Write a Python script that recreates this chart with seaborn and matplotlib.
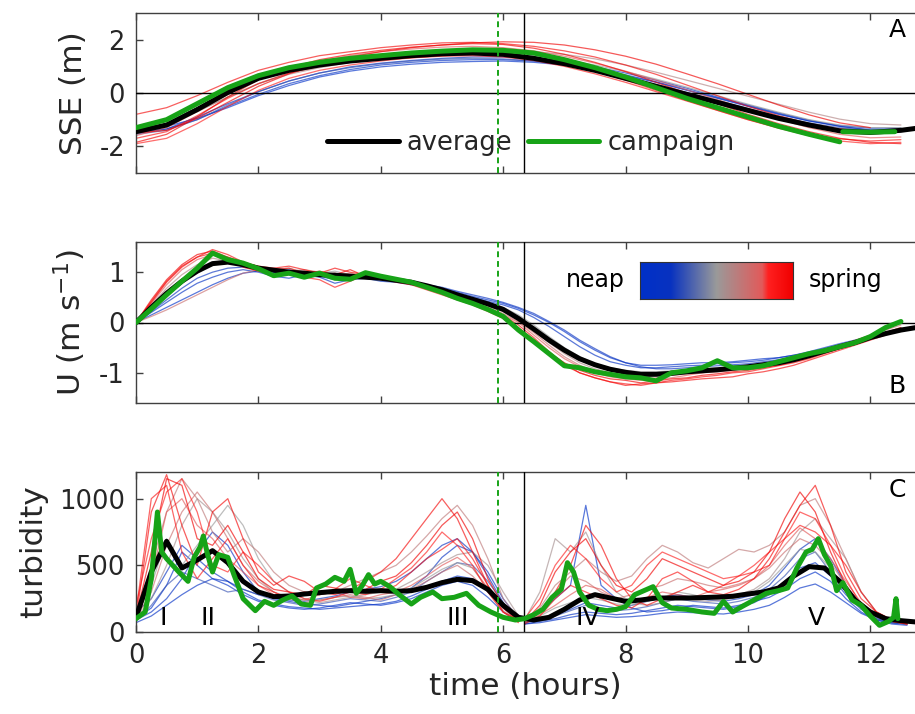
import numpy as np
import pandas as pd
import matplotlib
matplotlib.use("Agg")
import matplotlib.pyplot as plt
from matplotlib.colors import LinearSegmentedColormap
from matplotlib.lines import Line2D
import seaborn as sns

# ---------------------------------------------------------------- time axes
hours_half = np.arange(0, 13.01, 0.5)        # SSE average (27 samples)
hours_member_sse = np.arange(0, 12.51, 0.5)  # SSE members (26 samples)
hours_quarter = np.arange(0, 12.76, 0.25)    # U / turbidity averages (52)
hours_member_u = np.arange(0, 12.51, 0.25)   # U members (51)
hours_flood = np.arange(0, 6.26, 0.25)       # turbidity, first half (26)
hours_ebb = 6.35 + 0.25 * np.arange(26)      # turbidity, second half (26)

slack_hour = 6.34
campaign_hour = 5.92

# ---------------------------------------------------------------- panel A: SSE (m)
sse_average = [-1.45, -1.2, -0.62, 0.02, 0.55, 0.85, 1.05, 1.2, 1.3, 1.4, 1.47, 1.5, 1.45,
               1.3, 1.1, 0.85, 0.55, 0.25, -0.05, -0.35, -0.65, -0.95, -1.2, -1.42, -1.48,
               -1.4, -1.25]
sse_campaign_hours = [0, 0.5, 1, 1.5, 2, 2.5, 3, 3.5, 4, 4.5, 5, 5.5, 6, 6.5, 7, 7.5, 8, 8.5,
                      9, 9.5, 10, 10.5, 11, 11.5, 11.55, 12.0, 12.4]
sse_campaign = [-1.3, -1.0, -0.4, 0.2, 0.65, 0.95, 1.15, 1.3, 1.4, 1.5, 1.57, 1.62, 1.6, 1.5,
                1.25, 0.95, 0.6, 0.2, -0.2, -0.55, -0.9, -1.25, -1.55, -1.83,
                -1.45, -1.47, -1.45]
sse_campaign_segment = [0] * 24 + [1] * 3

sse_phase = [1.0, 0.95, 0.9, 0.8, 0.5, 0.1, 0.0, 0.2, 0.85, 0.6, 1.0, 0.3]
sse_members = [
    [-1.85, -1.55, -0.9, -0.15, 0.5, 0.95, 1.25, 1.45, 1.6, 1.72, 1.8, 1.85, 1.82, 1.68, 1.45, 1.15, 0.8, 0.4, 0.0, -0.4, -0.8, -1.15, -1.45, -1.7, -1.85, -1.9],
    [-0.8, -0.55, -0.1, 0.4, 0.85, 1.15, 1.4, 1.55, 1.7, 1.8, 1.88, 1.9, 1.85, 1.75, 1.58, 1.35, 1.05, 0.7, 0.3, -0.1, -0.5, -0.85, -1.15, -1.35, -1.45, np.nan],
    [-1.7, -1.45, -0.85, -0.2, 0.35, 0.75, 1.0, 1.15, 1.25, 1.32, 1.38, 1.4, 1.35, 1.22, 1.0, 0.72, 0.4, 0.05, -0.3, -0.65, -1.0, -1.3, -1.55, -1.72, -1.8, -1.75],
    [-1.6, -1.3, -0.7, -0.05, 0.55, 0.95, 1.2, 1.4, 1.55, 1.65, 1.72, 1.75, 1.7, 1.58, 1.38, 1.12, 0.82, 0.48, 0.12, -0.25, -0.62, -0.98, -1.3, -1.55, -1.68, -1.65],
    [-1.4, -1.2, -0.7, -0.15, 0.35, 0.75, 1.0, 1.2, 1.32, 1.42, 1.5, 1.52, 1.5, 1.4, 1.25, 1.05, 0.8, 0.52, 0.22, -0.1, -0.42, -0.72, -1.0, -1.2, -1.3, -1.3],
    [-1.45, -1.35, -1.0, -0.5, -0.05, 0.35, 0.65, 0.88, 1.05, 1.15, 1.22, 1.25, 1.25, 1.2, 1.08, 0.9, 0.68, 0.42, 0.12, -0.18, -0.48, -0.78, -1.05, -1.25, -1.38, -1.4],
    [-1.3, -1.25, -0.95, -0.55, -0.1, 0.28, 0.6, 0.82, 0.98, 1.08, 1.15, 1.18, 1.2, 1.15, 1.05, 0.88, 0.65, 0.4, 0.1, -0.2, -0.5, -0.8, -1.05, -1.22, -1.32, -1.32],
    [-1.5, -1.35, -0.9, -0.4, 0.05, 0.45, 0.75, 0.98, 1.12, 1.22, 1.3, 1.35, 1.35, 1.3, 1.18, 0.98, 0.75, 0.48, 0.18, -0.15, -0.45, -0.75, -1.02, -1.25, -1.4, -1.45],
    [-1.9, -1.7, -1.15, -0.5, 0.1, 0.55, 0.85, 1.05, 1.2, 1.32, 1.4, 1.45, 1.42, 1.3, 1.1, 0.82, 0.48, 0.1, -0.28, -0.65, -1.0, -1.32, -1.6, -1.8, -1.9, -1.85],
    [-1.3, -1.15, -0.7, -0.15, 0.35, 0.7, 0.95, 1.15, 1.3, 1.42, 1.5, 1.55, 1.58, 1.55, 1.45, 1.28, 1.05, 0.78, 0.48, 0.18, -0.12, -0.42, -0.72, -0.98, -1.15, -1.2],
    [-1.5, -1.4, -0.95, -0.35, 0.25, 0.72, 1.08, 1.35, 1.55, 1.7, 1.8, 1.88, 1.92, 1.9, 1.8, 1.62, 1.38, 1.08, 0.72, 0.35, -0.05, -0.45, -0.82, -1.12, -1.3, np.nan],
    [-1.55, -1.4, -1.0, -0.45, 0.05, 0.45, 0.75, 0.95, 1.1, 1.2, 1.27, 1.3, 1.28, 1.2, 1.05, 0.85, 0.6, 0.32, 0.02, -0.28, -0.58, -0.88, -1.12, -1.3, -1.4, -1.42],
]

# ---------------------------------------------------------------- panel B: U (m/s)
u_average = [0, 0.3, 0.58, 0.82, 1.02, 1.17, 1.2, 1.15, 1.08, 1.04, 1.0, 0.98, 0.95, 0.94,
             0.92, 0.9, 0.88, 0.84, 0.8, 0.73, 0.65, 0.55, 0.46, 0.37, 0.26, 0.08, -0.13,
             -0.35, -0.55, -0.72, -0.84, -0.93, -0.99, -1.03, -1.03, -1.01, -0.98, -0.96,
             -0.94, -0.91, -0.88, -0.84, -0.8, -0.74, -0.66, -0.57, -0.48, -0.4, -0.3,
             -0.22, -0.15, -0.1]
u_campaign = [0, 0.27, 0.55, 0.82, 1.08, 1.38, 1.25, 1.18, 1.07, 0.93, 0.98, 0.9, 0.98, 0.88,
              0.86, 0.99, 0.92, 0.86, 0.8, 0.7, 0.6, 0.48, 0.38, 0.26, 0.12, -0.15, -0.38,
              -0.62, -0.86, -0.9, -0.98, -1.03, -1.08, -1.1, -1.16, -1.0, -0.96, -0.9, -0.76,
              -0.9, -0.9, -0.86, -0.78, -0.7, -0.62, -0.56, -0.48, -0.4, -0.28, -0.1, 0.02]

u_phase = [1.0, 0.9, 0.8, 0.7, 0.5, 0.0, 0.1, 0.2, 0.95, 0.6]
u_members = [
    [0, 0.45, 0.85, 1.15, 1.35, 1.42, 1.3, 1.18, 1.1, 1.05, 1.08, 0.98, 1.02, 0.95, 1.05, 0.92, 0.9, 0.85, 0.78, 0.7, 0.6, 0.48, 0.38, 0.25, 0.12, -0.1, -0.35, -0.6, -0.8, -0.95, -1.05, -1.12, -1.15, -1.2, -1.16, -1.12, -1.1, -1.05, -1.02, -0.98, -0.95, -0.9, -0.85, -0.78, -0.7, -0.6, -0.5, -0.4, -0.3, -0.2, -0.1],
    [0, 0.4, 0.8, 1.1, 1.3, 1.38, 1.25, 1.1, 1.02, 0.95, 1.0, 0.9, 0.85, 0.7, 0.82, 0.95, 0.88, 0.8, 0.75, 0.65, 0.55, 0.45, 0.35, 0.22, 0.08, -0.15, -0.4, -0.65, -0.85, -1.0, -1.1, -1.18, -1.22, -1.25, -1.2, -1.15, -1.12, -1.08, -1.05, -1.0, -0.98, -0.92, -0.86, -0.8, -0.72, -0.62, -0.52, -0.42, -0.32, -0.22, -0.12],
    [0, 0.38, 0.75, 1.05, 1.25, 1.35, 1.3, 1.2, 1.1, 1.05, 0.98, 1.02, 0.95, 0.98, 0.9, 0.92, 0.85, 0.82, 0.75, 0.68, 0.58, 0.48, 0.36, 0.25, 0.15, 0.0, -0.25, -0.5, -0.72, -0.88, -1.0, -1.08, -1.12, -1.15, -1.12, -1.1, -1.05, -1.0, -0.98, -0.95, -0.9, -0.88, -0.82, -0.76, -0.68, -0.58, -0.5, -0.42, -0.32, -0.24, -0.15],
    [0, 0.12, 0.25, 0.4, 0.55, 0.7, 0.85, 0.98, 1.05, 1.08, 1.02, 1.05, 1.0, 0.95, 0.98, 0.92, 0.9, 0.86, 0.8, 0.72, 0.62, 0.5, 0.4, 0.3, 0.18, 0.02, -0.2, -0.45, -0.68, -0.85, -0.98, -1.05, -1.1, -1.12, -1.1, -1.05, -1.02, -1.0, -0.95, -0.92, -0.9, -0.85, -0.8, -0.72, -0.65, -0.55, -0.45, -0.35, -0.25, -0.15, -0.05],
    [0, 0.3, 0.6, 0.85, 1.05, 1.18, 1.2, 1.15, 1.1, 1.05, 1.08, 1.0, 0.98, 1.02, 0.95, 0.9, 0.88, 0.85, 0.8, 0.74, 0.66, 0.56, 0.48, 0.4, 0.3, 0.15, -0.05, -0.28, -0.5, -0.68, -0.82, -0.9, -0.95, -0.98, -0.98, -0.96, -0.95, -0.92, -0.9, -0.88, -0.85, -0.82, -0.78, -0.72, -0.65, -0.56, -0.48, -0.4, -0.3, -0.22, -0.14],
    [0, 0.15, 0.3, 0.45, 0.6, 0.75, 0.88, 0.98, 1.02, 1.0, 0.95, 0.9, 0.92, 0.85, 0.88, 0.9, 0.85, 0.82, 0.78, 0.74, 0.68, 0.6, 0.52, 0.45, 0.38, 0.28, 0.15, 0.0, -0.18, -0.38, -0.55, -0.7, -0.8, -0.85, -0.85, -0.84, -0.82, -0.8, -0.8, -0.78, -0.75, -0.72, -0.7, -0.65, -0.6, -0.52, -0.45, -0.38, -0.3, -0.22, -0.15],
    [0, 0.2, 0.4, 0.6, 0.78, 0.9, 1.0, 1.05, 1.0, 0.92, 0.88, 0.95, 0.9, 0.78, 0.85, 0.88, 0.82, 0.8, 0.75, 0.7, 0.64, 0.56, 0.5, 0.42, 0.35, 0.25, 0.1, -0.08, -0.28, -0.48, -0.65, -0.78, -0.85, -0.9, -0.9, -0.88, -0.86, -0.85, -0.82, -0.8, -0.78, -0.75, -0.7, -0.65, -0.58, -0.5, -0.42, -0.35, -0.28, -0.2, -0.12],
    [0, 0.22, 0.45, 0.68, 0.88, 1.0, 1.08, 1.1, 1.05, 1.0, 1.05, 0.98, 0.95, 0.9, 0.95, 0.9, 0.86, 0.84, 0.8, 0.75, 0.7, 0.62, 0.55, 0.48, 0.4, 0.3, 0.18, 0.02, -0.15, -0.35, -0.52, -0.68, -0.8, -0.88, -0.92, -0.92, -0.9, -0.88, -0.86, -0.84, -0.82, -0.78, -0.74, -0.68, -0.62, -0.55, -0.47, -0.4, -0.32, -0.24, -0.16],
    [0, 0.42, 0.82, 1.12, 1.3, 1.45, 1.35, 1.2, 1.12, 1.08, 1.12, 1.05, 0.98, 1.08, 1.0, 0.95, 0.92, 0.86, 0.8, 0.72, 0.62, 0.5, 0.4, 0.28, 0.14, -0.05, -0.3, -0.58, -0.82, -1.0, -1.1, -1.18, -1.25, -1.22, -1.2, -1.18, -1.15, -1.12, -1.1, -1.08, -1.02, -0.98, -0.92, -0.85, -0.75, -0.65, -0.55, -0.45, -0.35, -0.25, -0.15],
    [0, 0.35, 0.68, 0.95, 1.15, 1.28, 1.22, 1.12, 1.02, 1.05, 0.96, 1.0, 0.92, 0.98, 0.9, 0.94, 0.88, 0.82, 0.76, 0.7, 0.6, 0.5, 0.4, 0.32, 0.22, 0.06, -0.15, -0.4, -0.62, -0.8, -0.92, -1.0, -1.05, -1.08, -1.05, -1.02, -1.0, -0.98, -0.94, -0.92, -0.88, -0.85, -0.8, -0.74, -0.66, -0.58, -0.48, -0.4, -0.3, -0.2, -0.1],
]

# ---------------------------------------------------------------- panel C: turbidity
turb_average = [110, 450, 680, 480, 540, 610, 520, 380, 300, 265, 270, 285, 295, 305, 310,
                305, 310, 305, 310, 335, 370, 395, 385, 320, 200, 110,
                90, 110, 170, 240, 280, 255, 230, 240, 255, 255, 255, 258, 262, 268, 285,
                300, 330, 420, 490, 480, 380, 240, 150, 100, 85, 75]
turb_campaign_hours = [0.0, 0.15, 0.25, 0.35, 0.42, 0.5, 0.6, 0.7, 0.85, 0.95,
                       1.05, 1.1, 1.17, 1.25, 1.35, 1.5, 1.6, 1.75, 1.95, 2.1,
                       2.25, 2.4, 2.55, 2.7, 2.85, 2.95, 3.1, 3.25, 3.4, 3.5,
                       3.6, 3.7, 3.8, 3.9, 4.0, 4.15, 4.3, 4.5, 4.65, 4.85,
                       5.0, 5.2, 5.4, 5.6, 5.8, 6.0, 6.2, 6.35, 6.5, 6.65,
                       6.8, 6.95, 7.05, 7.15, 7.25, 7.4, 7.55, 7.7, 7.85, 8.0,
                       8.15, 8.3, 8.45, 8.6, 8.75, 9.0, 9.25, 9.45, 9.6, 9.75,
                       9.9, 10.1, 10.3, 10.5, 10.65, 10.8, 10.95, 11.05, 11.15, 11.25,
                       11.35, 11.45, 11.55, 11.7, 11.85, 12.0, 12.15, 12.3, 12.38, 12.42, 12.45]
turb_campaign = [100, 150, 400, 900, 600, 550, 500, 450, 380, 560,
                 640, 720, 580, 450, 580, 560, 430, 250, 160, 230,
                 200, 240, 270, 210, 200, 330, 360, 410, 380, 470,
                 290, 350, 430, 360, 380, 340, 280, 210, 260, 300,
                 250, 260, 290, 200, 150, 110, 90, 100, 130, 170,
                 260, 320, 520, 450, 300, 200, 170, 160, 170, 190,
                 280, 310, 340, 220, 180, 170, 150, 140, 230, 150,
                 190, 240, 290, 310, 330, 480, 600, 620, 700, 580,
                 500, 310, 370, 240, 200, 120, 50, 80, 110, 250, 100]

turb_phase = [1.0, 0.95, 0.9, 0.85, 0.8, 0.7, 0.55, 0.5, 0.3, 0.15, 0.05, 0.0, 0.2, 0.65]
turb_flood = [
    [120, 600, 1150, 1100, 700, 650, 800, 600, 400, 320, 300, 280, 350, 330, 300, 320, 380, 420, 520, 650, 800, 900, 700, 400, 200, 90],
    [100, 900, 1180, 800, 500, 900, 1000, 700, 450, 350, 420, 380, 300, 280, 320, 380, 450, 550, 700, 850, 1000, 850, 600, 350, 180, 80],
    [150, 1000, 1100, 600, 400, 550, 700, 500, 350, 300, 250, 300, 280, 320, 400, 350, 300, 350, 450, 550, 620, 700, 550, 350, 150, 70],
    [200, 700, 1050, 1150, 900, 500, 450, 600, 500, 380, 300, 250, 230, 260, 300, 280, 320, 400, 480, 600, 750, 650, 500, 300, 150, 90],
    [80, 400, 900, 1000, 800, 700, 550, 450, 350, 280, 260, 240, 280, 300, 260, 250, 280, 300, 350, 420, 500, 560, 480, 330, 180, 100],
    [100, 300, 650, 900, 1050, 900, 700, 500, 380, 300, 250, 220, 240, 260, 280, 260, 240, 280, 320, 380, 450, 500, 420, 300, 150, 90],
    [100, 250, 500, 800, 1000, 900, 750, 550, 400, 300, 260, 240, 220, 240, 260, 280, 300, 320, 380, 450, 520, 580, 600, 500, 300, 120],
    [120, 350, 700, 500, 650, 800, 950, 800, 550, 380, 300, 250, 240, 260, 270, 250, 260, 280, 330, 400, 470, 520, 480, 320, 160, 80],
    [80, 200, 350, 450, 400, 350, 300, 320, 280, 240, 220, 200, 210, 230, 250, 240, 230, 260, 300, 380, 450, 520, 500, 380, 220, 100],
    [90, 150, 250, 400, 600, 750, 650, 450, 300, 250, 230, 210, 200, 190, 210, 230, 250, 280, 330, 420, 560, 650, 600, 450, 250, 100],
    [70, 120, 200, 280, 350, 400, 380, 300, 240, 210, 190, 180, 170, 180, 190, 200, 210, 230, 270, 320, 380, 420, 400, 300, 180, 90],
    [100, 180, 350, 600, 500, 400, 350, 280, 230, 200, 180, 170, 180, 200, 220, 210, 200, 220, 250, 300, 350, 380, 350, 260, 150, 80],
    [150, 250, 450, 650, 550, 450, 380, 320, 280, 260, 240, 230, 250, 270, 300, 320, 340, 380, 450, 550, 650, 700, 600, 420, 220, 100],
    [90, 500, 900, 1150, 1000, 750, 600, 700, 600, 450, 350, 300, 280, 300, 350, 400, 450, 500, 600, 720, 850, 950, 800, 550, 250, 100],
]
turb_ebb = [
    [80, 200, 450, 600, 700, 500, 350, 300, 400, 550, 500, 450, 400, 350, 380, 450, 600, 850, 1050, 900, 600, 350, 200, 120, 80, 60],
    [90, 150, 300, 500, 800, 650, 400, 250, 200, 250, 300, 350, 300, 280, 320, 400, 550, 750, 950, 1100, 800, 450, 250, 150, 90, 70],
    [60, 120, 250, 350, 300, 250, 200, 180, 250, 400, 450, 380, 300, 350, 420, 450, 500, 700, 800, 750, 650, 500, 300, 150, 90, 70],
    [100, 250, 500, 650, 550, 400, 300, 350, 500, 600, 550, 500, 450, 400, 420, 500, 600, 700, 900, 850, 650, 400, 200, 120, 80, 60],
    [70, 130, 200, 280, 350, 320, 250, 220, 260, 300, 280, 260, 300, 320, 350, 400, 500, 650, 780, 700, 550, 380, 220, 130, 90, 70],
    [80, 150, 300, 420, 380, 300, 250, 280, 320, 350, 400, 380, 350, 330, 360, 400, 480, 600, 700, 650, 520, 350, 200, 120, 80, 60],
    [90, 300, 700, 600, 750, 500, 300, 220, 200, 220, 250, 240, 230, 240, 280, 320, 400, 550, 750, 850, 700, 550, 300, 150, 90, 70],
    [80, 120, 180, 220, 260, 240, 210, 200, 230, 260, 300, 280, 250, 240, 260, 300, 380, 500, 620, 600, 480, 320, 180, 110, 80, 60],
    [70, 90, 120, 160, 200, 180, 160, 170, 190, 220, 250, 230, 220, 210, 230, 260, 320, 420, 550, 600, 450, 300, 180, 100, 70, 60],
    [60, 80, 100, 130, 150, 140, 130, 140, 160, 180, 200, 190, 180, 170, 190, 220, 280, 380, 480, 520, 420, 280, 170, 100, 70, 60],
    [60, 70, 90, 110, 130, 120, 110, 115, 125, 140, 150, 145, 140, 135, 150, 170, 200, 260, 330, 360, 300, 220, 140, 90, 70, 60],
    [60, 150, 250, 350, 950, 350, 250, 180, 150, 160, 180, 200, 190, 180, 200, 230, 260, 320, 400, 450, 380, 250, 150, 90, 60, 50],
    [80, 100, 130, 170, 220, 200, 180, 200, 230, 260, 280, 260, 240, 230, 250, 280, 350, 480, 620, 700, 550, 350, 200, 110, 70, 60],
    [70, 180, 350, 450, 550, 450, 380, 420, 550, 650, 600, 520, 480, 550, 620, 600, 650, 750, 950, 1000, 800, 550, 300, 150, 90, 60],
]

roman_hours = [0.44, 1.18, 5.26, 7.39, 11.11]
roman_labels = ["I", "II", "III", "IV", "V"]

# ---------------------------------------------------------------- styling
GREEN = "#17a317"
INK = "#262626"
neap_spring = LinearSegmentedColormap.from_list(
    "neap_spring",
    [(0.0, "#0030c8"), (0.2, "#0832c0"), (0.5, "#9a9a9a"),
     (0.8, "#e25a5a"), (0.84, "#ff2020"), (1.0, "#f00000")])

sns.set_style("ticks", {"xtick.direction": "in", "ytick.direction": "in",
                        "axes.edgecolor": "#404040"})
plt.rcParams["font.family"] = ["DejaVu Sans"]
plt.rcParams["axes.unicode_minus"] = False
plt.rcParams["text.color"] = INK
plt.rcParams["axes.labelcolor"] = INK
plt.rcParams["xtick.color"] = "#404040"
plt.rcParams["ytick.color"] = "#404040"
plt.rcParams["xtick.labelcolor"] = INK
plt.rcParams["ytick.labelcolor"] = INK

TICK_FS = 18.5
LABEL_FS = 22.5

fig = plt.figure(figsize=(9.15, 7.14), dpi=100)
W, H = 915.0, 714.0


def add_panel(top_px, bottom_px):
    left = 136 / W
    return fig.add_axes([left, 1 - bottom_px / H, 1 - left, (bottom_px - top_px) / H])


ax_a = add_panel(13, 173)
ax_b = add_panel(242, 403)
ax_c = add_panel(472, 632)


def members_frame(hours, members, phases, tag=0):
    rows = []
    for k, (vals, ph) in enumerate(zip(members, phases)):
        rows.append(pd.DataFrame({"hours": hours, "value": vals,
                                  "member": k * 10 + tag, "phase": ph}))
    return pd.concat(rows, ignore_index=True).dropna()


def draw_members(ax, df):
    sns.lineplot(data=df, x="hours", y="value", hue="phase", units="member",
                 estimator=None, palette=neap_spring, hue_norm=(0, 1), sort=False,
                 lw=0.9, alpha=0.65, legend=False, ax=ax, zorder=2)


# ---- A
draw_members(ax_a, members_frame(hours_member_sse, sse_members, sse_phase))
sns.lineplot(x=hours_half, y=sse_average, color="black", lw=3.6, ax=ax_a, zorder=5)
camp_a = pd.DataFrame({"hours": sse_campaign_hours, "value": sse_campaign,
                       "seg": sse_campaign_segment})
sns.lineplot(data=camp_a, x="hours", y="value", units="seg", estimator=None,
             color=GREEN, lw=3.6, ax=ax_a, zorder=6, sort=False)

# ---- B
draw_members(ax_b, members_frame(hours_member_u, u_members, u_phase))
sns.lineplot(x=hours_quarter, y=u_average, color="black", lw=3.6, ax=ax_b, zorder=5)
sns.lineplot(x=hours_member_u, y=u_campaign, color=GREEN, lw=3.6, ax=ax_b, zorder=6)

# ---- C
turb_df = pd.concat([members_frame(hours_flood, turb_flood, turb_phase, tag=0),
                     members_frame(hours_ebb, turb_ebb, turb_phase, tag=1)],
                    ignore_index=True)
draw_members(ax_c, turb_df)
sns.lineplot(x=hours_quarter, y=turb_average, color="black", lw=3.6, ax=ax_c, zorder=5)
sns.lineplot(x=turb_campaign_hours, y=turb_campaign, color=GREEN, lw=3.6, ax=ax_c,
             zorder=6, sort=False, estimator=None)

# ---- shared axes cosmetics
limits = [(-3, 3), (-1.6, 1.6), (0, 1200)]
yticks = [[-2, 0, 2], [-1, 0, 1], [0, 500, 1000]]
ylabels = ["SSE (m)", "U (m s$^{-1}$)", "turbidity"]
letters = ["A", "B", "C"]
letter_y = [0.894, 0.106, 0.8875]

for ax, lim, yt, yl, letter, ly in zip([ax_a, ax_b, ax_c], limits, yticks, ylabels,
                                       letters, letter_y):
    ax.set_xlim(0, 12.73)
    ax.set_ylim(*lim)
    ax.set_xticks([0, 2, 4, 6, 8, 10, 12])
    ax.set_yticks(yt)
    ax.tick_params(axis="both", direction="in", length=5, width=1.0,
                   labelsize=TICK_FS, top=True, right=False, pad=8)
    ax.set_ylabel(yl, fontsize=LABEL_FS, labelpad=8)
    ax.set_xlabel("")
    for side in ["left", "top", "bottom"]:
        ax.spines[side].set_visible(True)
        ax.spines[side].set_linewidth(1.0)
        ax.spines[side].set_color("#404040")
    ax.spines["right"].set_visible(False)
    ax.axvline(slack_hour, color="black", lw=1.0, zorder=4)
    ax.axvline(campaign_hour, color=GREEN, lw=1.4, ls=(0, (3, 2)), zorder=7)
    ax.text(0.977, ly, letter, transform=ax.transAxes, ha="center", va="center",
            fontsize=18, color="black")

for ax in (ax_a, ax_b):
    ax.axhline(0, color="black", lw=1.0, zorder=4)
    ax.tick_params(axis="x", labelbottom=False)

ax_c.set_xlabel("time (hours)", fontsize=LABEL_FS, labelpad=2)

for hx, lab in zip(roman_hours, roman_labels):
    ax_c.text(hx, 50, lab, ha="center", va="baseline", fontsize=18, color="black",
              zorder=8)

# legend of panel A
handles = [Line2D([], [], color="black", lw=3.6), Line2D([], [], color=GREEN, lw=3.6)]
ax_a.legend(handles, ["average", "campaign"], ncol=2, frameon=False,
            loc="center left", bbox_to_anchor=(0.245, 0.19), handlelength=2.8,
            handletextpad=0.3, columnspacing=0.6, borderpad=0, borderaxespad=0,
            fontsize=18.5)

# neap / spring colour key in panel B
cax = fig.add_axes([640 / W, 1 - 299 / H, 153 / W, 37 / H])
cax.imshow(np.linspace(0, 1, 256)[None, :], aspect="auto", cmap=neap_spring)
cax.set_xticks([])
cax.set_yticks([])
for s in cax.spines.values():
    s.set_visible(True)
    s.set_color("#333333")
    s.set_linewidth(0.8)
fig.text(625 / W, 1 - 280 / H, "neap", ha="right", va="center", fontsize=17, color="black")
fig.text(809 / W, 1 - 280 / H, "spring", ha="left", va="center", fontsize=17, color="black")

fig.savefig("out.png", dpi=100, facecolor="white")
